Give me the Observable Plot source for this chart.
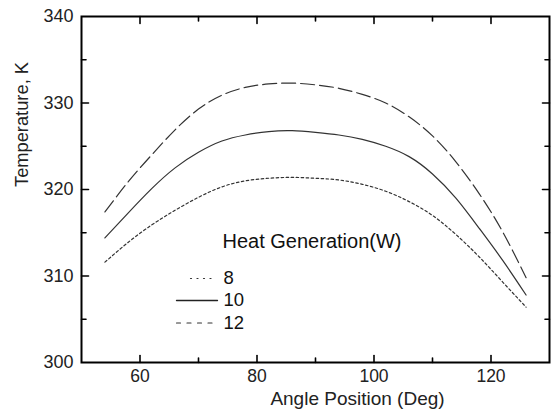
<!DOCTYPE html>
<html>
<head>
<meta charset="utf-8">
<script src="https://cdn.jsdelivr.net/npm/d3@7"></script>
<script src="https://cdn.jsdelivr.net/npm/@observablehq/plot@0.6"></script>
<style>
  html, body { margin: 0; padding: 0; background: #fff; }
  #chart svg { font-family: "Liberation Sans", Arial, sans-serif; }
</style>
</head>
<body>
<div id="chart"></div>
<script>
// Data
const angle  = [54, 58, 62, 66, 70, 74, 78, 82, 86, 90, 94, 98, 102, 106, 110, 114, 118, 122, 126];
const temp8  = [311.6, 313.9, 315.9, 317.6, 319.1, 320.3, 321.0, 321.3, 321.4, 321.3, 321.1, 320.6, 319.8, 318.6, 317.0, 314.8, 312.2, 309.3, 306.4];
const temp10 = [314.4, 317.3, 320.1, 322.5, 324.3, 325.6, 326.3, 326.7, 326.8, 326.6, 326.3, 325.8, 325.0, 323.8, 321.8, 319.0, 315.5, 311.8, 307.8];
const temp12 = [317.4, 320.9, 324.0, 326.9, 329.3, 330.9, 331.8, 332.2, 332.3, 332.1, 331.7, 331.0, 330.0, 328.4, 326.2, 323.2, 319.5, 315.1, 309.8];

const xMajor = [60, 80, 100, 120];
const xMinor = [70, 90, 110];
const yMajor = [300, 310, 320, 330, 340];
const yMinor = [305, 315, 325, 335];

const seriesNames = ["8", "10", "12"];
const legendTitle = "Heat Generation(W)";

const rows = (vals) => angle.map((a, i) => ({angle: a, temp: vals[i]}));
const d8 = rows(temp8), d10 = rows(temp10), d12 = rows(temp12);

const segment = {draw(ctx, l) { ctx.moveTo(0, 0); ctx.lineTo(0, -l); }};
const tickStyle = {anchor: "start", shape: segment, stroke: "black", strokeWidth: 1.6};
const ink = "#222";

const chart = Plot.plot({
  width: 552,
  height: 409,
  marginLeft: 81,
  marginRight: 3,
  marginTop: 16,
  marginBottom: 47,
  style: {fontFamily: "Liberation Sans, Arial, sans-serif", background: "white"},
  x: {domain: [50, 130]},
  y: {domain: [300, 340]},
  marks: [
    Plot.axisX(xMajor, {tickSize: 0, tickPadding: 7, fontSize: 17.5, fill: ink, label: null}),
    Plot.axisY(yMajor, {tickSize: 0, tickPadding: 8, fontSize: 18, fill: ink, label: null}),
    // inward ticks on all four sides
    Plot.vector(xMajor, {x: d => d, y: 300, length: 7, rotate: 0, ...tickStyle}),
    Plot.vector(xMinor, {x: d => d, y: 300, length: 4.5, rotate: 0, ...tickStyle}),
    Plot.vector(xMajor, {x: d => d, y: 340, length: 7, rotate: 180, ...tickStyle}),
    Plot.vector(xMinor, {x: d => d, y: 340, length: 4.5, rotate: 180, ...tickStyle}),
    Plot.vector(yMajor.slice(1, -1), {x: 50, y: d => d, length: 7, rotate: 90, ...tickStyle}),
    Plot.vector(yMinor, {x: 50, y: d => d, length: 4.5, rotate: 90, ...tickStyle}),
    Plot.vector(yMajor.slice(1, -1), {x: 130, y: d => d, length: 7, rotate: -90, ...tickStyle}),
    Plot.vector(yMinor, {x: 130, y: d => d, length: 4.5, rotate: -90, ...tickStyle}),
    // curves
    Plot.line(d8,  {x: "angle", y: "temp", curve: "natural", stroke: "#333", strokeWidth: 1.2, strokeDasharray: "2.5,2.5"}),
    Plot.line(d10, {x: "angle", y: "temp", curve: "natural", stroke: "#333", strokeWidth: 1.2}),
    Plot.line(d12, {x: "angle", y: "temp", curve: "natural", stroke: "#333", strokeWidth: 1.2, strokeDasharray: "14,5"}),
    // axis titles
    Plot.text(["Angle Position (Deg)"], {frameAnchor: "bottom", dx: 42, dy: 36.5, fontSize: 19, fill: ink, lineAnchor: "middle"}),
    Plot.text(["Temperature, K"], {frameAnchor: "left", dx: -59, dy: -2.5, rotate: -90, fontSize: 18.3, fill: ink, lineAnchor: "middle"}),
    // legend
    Plot.text([legendTitle], {frameAnchor: "top-left", dx: 141, dy: 225.5, textAnchor: "start", lineAnchor: "middle", fontSize: 20, fill: "#111"}),
    Plot.text([seriesNames[0]], {frameAnchor: "top-left", dx: 142, dy: 262, textAnchor: "start", lineAnchor: "middle", fontSize: 18.5, fill: "#111"}),
    Plot.text([seriesNames[1]], {frameAnchor: "top-left", dx: 142, dy: 284, textAnchor: "start", lineAnchor: "middle", fontSize: 18.5, fill: "#111"}),
    Plot.text([seriesNames[2]], {frameAnchor: "top-left", dx: 142, dy: 306.5, textAnchor: "start", lineAnchor: "middle", fontSize: 18.5, fill: "#111"}),
    Plot.vector([0], {frameAnchor: "top-left", dx: 109, dy: 262, length: 25, rotate: 90, anchor: "start", shape: segment, stroke: "#333", strokeWidth: 1.2, strokeDasharray: "1,5.5"}),
    Plot.vector([0], {frameAnchor: "top-left", dx: 95, dy: 284, length: 41, rotate: 90, anchor: "start", shape: segment, stroke: "#222", strokeWidth: 1.3}),
    Plot.vector([0], {frameAnchor: "top-left", dx: 95, dy: 306.5, length: 41, rotate: 90, anchor: "start", shape: segment, stroke: "#333", strokeWidth: 1.2, strokeDasharray: "4,6.5"}),
    Plot.frame({stroke: "black", strokeWidth: 2})
  ]
});
document.getElementById("chart").appendChild(chart);
</script>
</body>
</html>
